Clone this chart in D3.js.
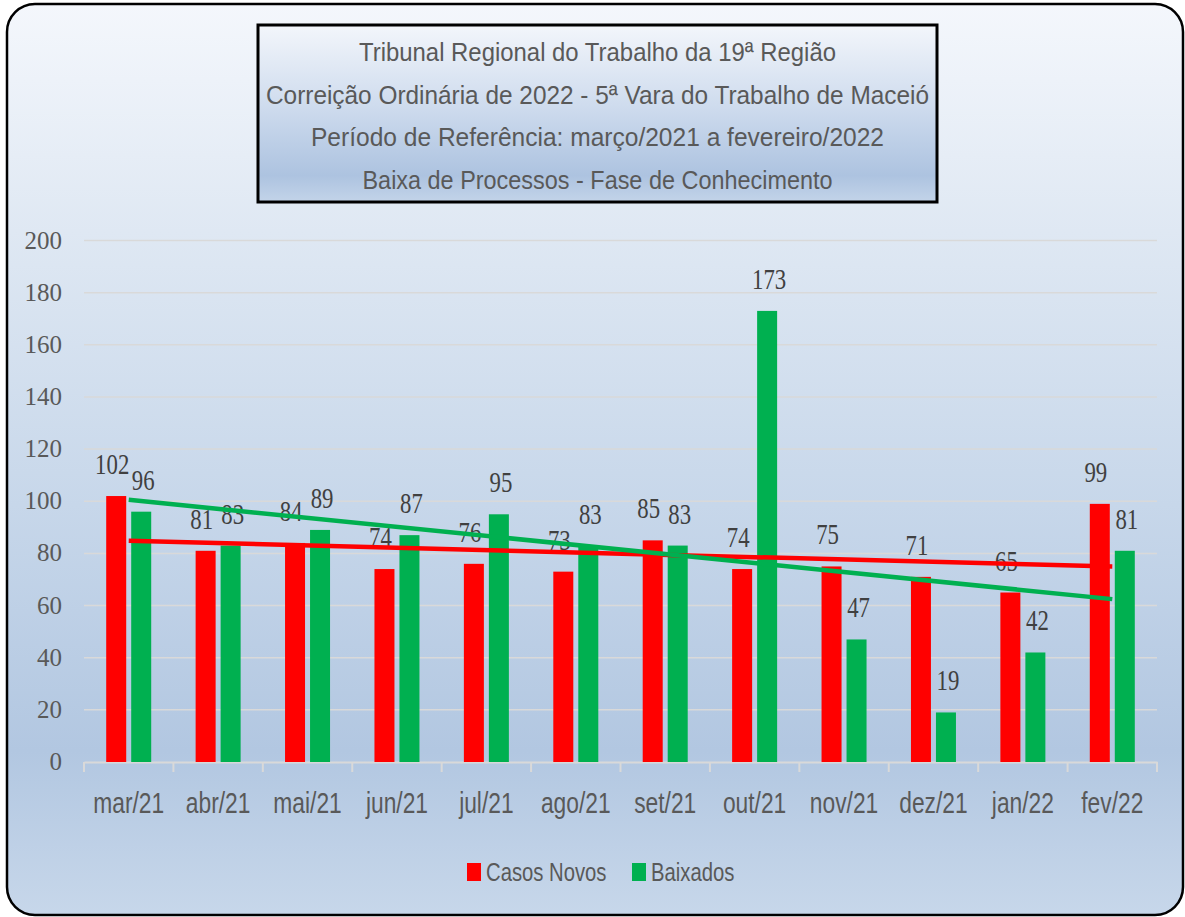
<!DOCTYPE html>
<html>
<head>
<meta charset="utf-8">
<script src="https://cdn.jsdelivr.net/npm/d3@7"></script>
<style>
  html, body { margin: 0; padding: 0; background: #fff; }
  svg { display: block; }
</style>
</head>
<body>
<svg id="chart" width="1185" height="917"></svg>
<script>
const months = ['mar/21', 'abr/21', 'mai/21', 'jun/21', 'jul/21', 'ago/21', 'set/21', 'out/21', 'nov/21', 'dez/21', 'jan/22', 'fev/22'];
const casosNovos = [102, 81, 84, 74, 76, 73, 85, 74, 75, 71, 65, 99];
const baixados = [96, 83, 89, 87, 95, 83, 83, 173, 47, 19, 42, 81];
const yTicks = [0, 20, 40, 60, 80, 100, 120, 140, 160, 180, 200];
const titleLines = [
  'Tribunal Regional do Trabalho da 19ª Região',
  'Correição Ordinária de 2022 - 5ª Vara do Trabalho de Maceió',
  'Período de Referência: março/2021 a fevereiro/2022',
  'Baixa de Processos - Fase de Conhecimento'
];
const seriesNames = ['Casos Novos', 'Baixados'];

const seriesColors = {
  'Casos Novos': '#ff0000',
  'Baixados': '#00b050'
};

const svg = d3.select('#chart');
const defs = svg.append('defs');

// background gradient of the chart area
const bg = defs.append('linearGradient').attr('id', 'bg').attr('x1', 0).attr('y1', 0).attr('x2', 0).attr('y2', 1);
[[0, '#f4f7fc'], [0.25, '#dfe8f3'], [0.55, '#c7d7ea'], [0.82, '#b2c7e1'], [1, '#c7d7ea']].forEach(s => {
  bg.append('stop').attr('offset', s[0]).attr('stop-color', s[1]);
});

const tg = defs.append('linearGradient').attr('id', 'titlebg').attr('x1', 0).attr('y1', 0).attr('x2', 0).attr('y2', 1);
[[0, '#f3f6fb'], [0.45, '#cfdcee'], [0.85, '#adc3e0'], [1, '#c3d4e9']].forEach(s => {
  tg.append('stop').attr('offset', s[0]).attr('stop-color', s[1]);
});

svg.append('rect')
  .attr('x', 7).attr('y', 4)
  .attr('width', 1176).attr('height', 911)
  .attr('rx', 28).attr('ry', 28)
  .attr('fill', 'url(#bg)')
  .attr('stroke', '#000')
  .attr('stroke-width', 2.5);

// title box
svg.append('rect')
  .attr('x', 258).attr('y', 25)
  .attr('width', 679).attr('height', 177)
  .attr('fill', 'url(#titlebg)')
  .attr('stroke', '#000')
  .attr('stroke-width', 3);

const titleWidths = [477, 663, 573, 470];
svg.selectAll('text.title')
  .data(titleLines)
  .enter()
  .append('text')
  .attr('class', 'title')
  .attr('x', 597.5)
  .attr('y', (d, i) => 61 + i * 42.5)
  .attr('text-anchor', 'middle')
  .attr('textLength', (d, i) => titleWidths[i])
  .attr('lengthAdjust', 'spacingAndGlyphs')
  .attr('font-family', 'Liberation Sans, Arial, sans-serif')
  .attr('font-size', 26)
  .attr('fill', '#595959')
  .text(d => d);

// scales
const x0 = d3.scaleBand().domain(months).range([84, 1157]);
const x1 = d3.scaleBand().domain(seriesNames).range([0, 45]).paddingInner(0.2);
const y = d3.scaleLinear().domain([0, 200]).range([762, 240.5]);

// gridlines
svg.append('g')
  .selectAll('line')
  .data(yTicks.filter(t => t > 0))
  .enter()
  .append('line')
  .attr('x1', 84).attr('x2', 1157)
  .attr('y1', d => y(d)).attr('y2', d => y(d))
  .attr('stroke', '#d9d9d9')
  .attr('stroke-width', 1.5);

// y axis labels
svg.append('g')
  .selectAll('text')
  .data(yTicks)
  .enter()
  .append('text')
  .attr('x', 62)
  .attr('y', d => y(d) + 8)
  .attr('text-anchor', 'end')
  .attr('font-family', 'Liberation Serif, serif')
  .attr('font-size', 25)
  .attr('fill', '#595959')
  .text(d => d);

// x axis
const xAxis = svg.append('g')
  .attr('transform', `translate(0,${y(0)})`)
  .call(d3.axisBottom(x0).tickSize(0).tickFormat(''));
xAxis.select('.domain').attr('stroke', '#d9d9d9').attr('stroke-width', 2);
xAxis.selectAll('.tick').remove();

svg.append('g')
  .selectAll('line')
  .data(months.concat(['end']))
  .enter()
  .append('line')
  .attr('x1', (d, i) => 84 + i * x0.step())
  .attr('x2', (d, i) => 84 + i * x0.step())
  .attr('y1', y(0)).attr('y2', y(0) + 10)
  .attr('stroke', '#d9d9d9')
  .attr('stroke-width', 2);

svg.append('g')
  .selectAll('text')
  .data(months)
  .enter()
  .append('text')
  .attr('transform', d => `translate(${x0(d) + x0.bandwidth() / 2},813) scale(0.76,1)`)
  .attr('text-anchor', 'middle')
  .attr('font-family', 'Liberation Sans, Arial, sans-serif')
  .attr('font-size', 30)
  .attr('fill', '#595959')
  .text(d => d);

// bars
const rows = months.map((m, i) => ({
  month: m,
  values: [
    { key: 'Casos Novos', value: casosNovos[i] },
    { key: 'Baixados', value: baixados[i] }
  ]
}));

const groups = svg.append('g')
  .selectAll('g')
  .data(rows)
  .enter()
  .append('g')
  .attr('transform', d => `translate(${x0(d.month) + x0.bandwidth() / 2 - 22.5},0)`);

groups.selectAll('rect')
  .data(d => d.values)
  .enter()
  .append('rect')
  .attr('x', d => x1(d.key))
  .attr('y', d => y(d.value))
  .attr('width', x1.bandwidth())
  .attr('height', d => y(0) - y(d.value))
  .attr('fill', d => seriesColors[d.key]);

// linear trend lines (least squares, like the spreadsheet trendline)
function trend(values) {
  const n = values.length;
  const xs = values.map((v, i) => i + 1);
  const mx = d3.mean(xs);
  const my = d3.mean(values);
  const sxy = d3.sum(values, (v, i) => (xs[i] - mx) * (v - my));
  const sxx = d3.sum(xs, xv => (xv - mx) * (xv - mx));
  const slope = sxy / sxx;
  return [
    { month: months[0], value: my + slope * (1 - mx) },
    { month: months[n - 1], value: my + slope * (n - mx) }
  ];
}

const line = d3.line()
  .x(d => x0(d.month) + x0.bandwidth() / 2)
  .y(d => y(d.value));

svg.append('path')
  .datum(trend(casosNovos))
  .attr('d', line)
  .attr('fill', 'none')
  .attr('stroke', '#ff0000')
  .attr('stroke-width', 4.5);

svg.append('path')
  .datum(trend(baixados))
  .attr('d', line)
  .attr('fill', 'none')
  .attr('stroke', '#00b050')
  .attr('stroke-width', 4.5);

// data labels
const labelShift = { 'Casos Novos': -4, 'Baixados': 2 };
groups.selectAll('text')
  .data(d => d.values)
  .enter()
  .append('text')
  .attr('transform', d => `translate(${x1(d.key) + x1.bandwidth() / 2 + labelShift[d.key]},${y(d.value) - 22}) scale(0.76,1)`)
  .attr('text-anchor', 'middle')
  .attr('font-family', 'Liberation Serif, serif')
  .attr('font-size', 30)
  .attr('fill', '#404040')
  .text(d => d.value);

// legend
const legend = svg.append('g')
  .selectAll('g')
  .data(seriesNames)
  .enter()
  .append('g')
  .attr('transform', (d, i) => `translate(${467 + i * 165},0)`);

legend.append('rect')
  .attr('x', 0).attr('y', 863)
  .attr('width', 14).attr('height', 18)
  .attr('fill', d => seriesColors[d]);

legend.append('text')
  .attr('transform', 'translate(19,881) scale(0.78,1)')
  .attr('font-family', 'Liberation Sans, Arial, sans-serif')
  .attr('font-size', 26)
  .attr('fill', '#595959')
  .text(d => d);
</script>
</body>
</html>
